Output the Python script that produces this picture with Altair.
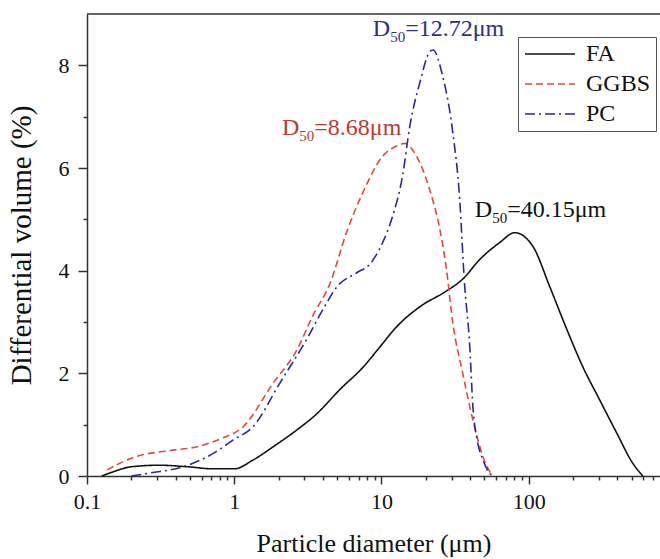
import altair as alt
import pandas as pd

# ---------------- data ----------------
series_names = ["FA", "GGBS", "PC"]

fa_x = [0.126, 0.15, 0.2, 0.31, 0.48, 0.72, 1.0, 1.34, 1.84, 2.67, 3.6, 5.2, 7.5, 9.8,
        12.7, 18.3, 27.5, 35.5, 46.6, 63.7, 80.5, 107, 139, 182, 233, 304, 396, 509, 596]
fa_y = [0.0, 0.08, 0.18, 0.21, 0.18, 0.14, 0.14, 0.31, 0.57, 0.90, 1.20, 1.68, 2.12, 2.52,
        2.91, 3.30, 3.60, 3.83, 4.22, 4.55, 4.74, 4.47, 3.69, 2.85, 2.13, 1.48, 0.84, 0.25, 0.0]

ggbs_x = [0.137, 0.21, 0.35, 0.58, 0.8, 1.15, 1.84, 2.67, 3.4, 4.5, 5.8, 7.5, 10.2,
          12.7, 14.4, 17.3, 21.2, 24.7, 27.5, 30.5, 35.6, 41.8, 49, 56]
ggbs_y = [0.12, 0.37, 0.49, 0.58, 0.72, 0.96, 1.81, 2.46, 3.11, 3.77, 4.75, 5.53, 6.23,
          6.43, 6.48, 6.23, 5.59, 4.86, 4.08, 2.99, 2.01, 1.09, 0.37, 0.02]

pc_x = [0.2, 0.27, 0.45, 0.72, 0.98, 1.34, 2.04, 3.1, 4.0, 5.0, 6.8, 8.3, 10.2, 11.9,
        13.9, 15.6, 18.3, 21.2, 22.4, 26, 30.5, 34, 36.5, 39.8, 41.8, 44.7, 49, 54, 58]
pc_y = [0.0, 0.06, 0.18, 0.44, 0.70, 0.96, 1.81, 2.66, 3.24, 3.69, 3.96, 4.12, 4.55, 5.06,
        5.84, 6.82, 7.68, 8.26, 8.30, 7.80, 6.70, 5.39, 3.83, 2.52, 1.35, 0.70, 0.31, 0.06, 0.0]

x_ticks = [0.1, 0.2, 0.3, 0.4, 0.5, 0.6, 0.7, 0.8, 0.9,
           1, 2, 3, 4, 5, 6, 7, 8, 9,
           10, 20, 30, 40, 50, 60, 70, 80, 90,
           100, 200, 300, 400, 500, 600, 700]
x_major = [0.1, 1, 10, 100]
y_ticks = [0, 1, 2, 3, 4, 5, 6, 7, 8]
y_major = [0, 2, 4, 6, 8]
x_domain = [0.1, 780]
y_domain = [0, 9]

ann_rest = ["=12.72\u03bcm", "=8.68\u03bcm", "=40.15\u03bcm"]
ann_x = [8.74, 2.11, 43.1]
ann_y = [8.57, 6.64, 5.04]

# ---------------- styling ----------------
series_colors = ["#111111", "#dd4b3e", "#2a2a90"]
series_dash = [[1, 0], [7, 4], [10, 4, 2, 4]]
ann_colors = ["#2e2e8c", "#c0392b", "#111111"]
FONT = "Liberation Serif, Times New Roman, DejaVu Serif, serif"

rows = []
for name, xs, ys in [("FA", fa_x, fa_y), ("GGBS", ggbs_x, ggbs_y), ("PC", pc_x, pc_y)]:
    for xv, yv in zip(xs, ys):
        rows.append({"series": name, "d": xv, "v": yv})
df = pd.DataFrame(rows)

xscale = alt.Scale(type="log", domain=x_domain, nice=False)
yscale = alt.Scale(domain=y_domain, nice=False, zero=False)

xaxis = alt.Axis(
    values=x_ticks,
    labelExpr=f"indexof({x_major}, datum.value) >= 0 ? format(datum.value, '~g') : ''",
    tickSize={"condition": {"test": f"indexof({x_major}, datum.value) >= 0", "value": 8}, "value": 4},
    labelPadding=7, labelOverlap=False, labelFlush=False, titlePadding=18,
    titleFontSize=26,
)
yaxis = alt.Axis(
    values=y_ticks,
    labelExpr=f"indexof({y_major}, datum.value) >= 0 ? format(datum.value, 'd') : ''",
    tickSize={"condition": {"test": f"indexof({y_major}, datum.value) >= 0", "value": 9}, "value": 4},
    labelPadding=9, labelOverlap=False, labelFlush=False, titlePadding=22,
    titleFontSize=29,
)

legend = alt.Legend(
    title=None, orient="none", legendX=431, legendY=23,
    symbolType="M-2.5,0L2.5,0", symbolSize=400, symbolStrokeWidth=1.6, symbolOffset=15,
    labelFont=FONT, labelFontSize=24, labelColor="#111", labelOffset=24,
    rowPadding=6, padding=5, strokeColor="#555", fillColor="white",
)

lines = alt.Chart(df).mark_line(strokeWidth=1.6, interpolate="monotone").encode(
    x=alt.X("d:Q", scale=xscale, axis=xaxis, title="Particle diameter (\u03bcm)"),
    y=alt.Y("v:Q", scale=yscale, axis=yaxis, title="Differential volume (%)"),
    color=alt.Color("series:N", scale=alt.Scale(domain=series_names, range=series_colors), legend=legend),
    strokeDash=alt.StrokeDash("series:N", scale=alt.Scale(domain=series_names, range=series_dash), legend=legend),
)

border = alt.Chart(pd.DataFrame({"x": [x_domain[0]], "x2": [x_domain[1]], "y": [y_domain[1]]})).mark_rule(
    color="#333", strokeWidth=1.5
).encode(x="x:Q", x2="x2:Q", y="y:Q")

layers = [lines, border]
MAIN = 24
SUB = 15
d_w = 0.722 * MAIN
for i in range(len(ann_rest)):
    adf = pd.DataFrame({"x": [ann_x[i]], "y": [ann_y[i]], "t": [ann_rest[i]]})
    base = alt.Chart(adf).encode(x="x:Q", y="y:Q")
    layers.append(base.mark_text(font=FONT, fontSize=MAIN, align="left", baseline="alphabetic",
                                 color=ann_colors[i], text="D"))
    layers.append(base.mark_text(font=FONT, fontSize=SUB, align="left", baseline="alphabetic",
                                 color=ann_colors[i], text="50", dx=d_w, dy=6))
    layers.append(base.mark_text(font=FONT, fontSize=MAIN, align="left", baseline="alphabetic",
                                 color=ann_colors[i], dx=d_w + SUB).encode(text="t:N"))

chart = alt.layer(*layers).properties(
    width=573, height=462,
    padding={"left": 87, "top": 14, "right": 0, "bottom": 83},
    autosize=alt.AutoSizeParams(type="none"),
    background="white",
).configure_view(stroke=None).configure_axis(
    domainColor="#333", domainWidth=1.5, tickColor="#333", tickWidth=1.5,
    labelFont=FONT, labelFontSize=22, labelColor="#111",
    titleFont=FONT, titleFontWeight="normal", titleColor="#111",
    grid=False,
)

chart.save("out.html", embed_options={"renderer": "svg", "actions": False})
